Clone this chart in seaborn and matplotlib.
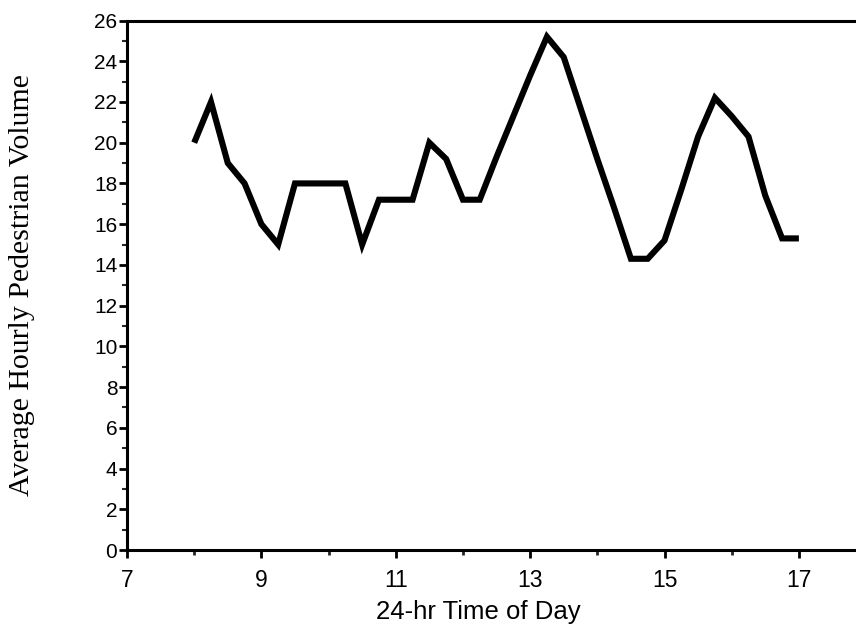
import numpy as np
import pandas as pd
import matplotlib
matplotlib.use("Agg")
import matplotlib.pyplot as plt
from matplotlib.ticker import MultipleLocator
import seaborn as sns

# quarter-hour readings, 8:00 to 17:00
hours = [8.0, 8.25, 8.5, 8.75, 9.0, 9.25, 9.5, 9.75, 10.0, 10.25,
         10.5, 10.75, 11.0, 11.25, 11.5, 11.75, 12.0, 12.25, 12.5, 12.75,
         13.0, 13.25, 13.5, 13.75, 14.0, 14.25, 14.5, 14.75, 15.0, 15.25,
         15.5, 15.75, 16.0, 16.25, 16.5, 16.75, 17.0]
volume = [20.0, 22.0, 19.0, 18.0, 16.0, 15.0, 18.0, 18.0, 18.0, 18.0,
          15.0, 17.2, 17.2, 17.2, 20.0, 19.2, 17.2, 17.2, 19.3, 21.3,
          23.3, 25.2, 24.2, 21.7, 19.2, 16.8, 14.3, 14.3, 15.2, 17.7,
          20.3, 22.2, 21.3, 20.3, 17.4, 15.3, 15.3]

x_ticks = [7, 9, 11, 13, 15, 17]
y_ticks = list(range(0, 27, 2))

df = pd.DataFrame({"hour": hours, "volume": volume})

sns.set_style("ticks")
plt.rcParams["font.family"] = ["Liberation Sans", "DejaVu Sans"]
plt.rcParams["text.color"] = "black"

fig = plt.figure(figsize=(8.56, 6.34), dpi=100)
ax = fig.add_axes([127 / 856, 1 - 550 / 634, 1 - 127 / 856, (550 - 20.5) / 634])

sns.lineplot(data=df, x="hour", y="volume", ax=ax, color="black",
             linewidth=4.4, solid_joinstyle="miter", solid_capstyle="butt")

ax.set_xlim(7, 17.85)
ax.set_ylim(0, 26)
ax.set_xticks(x_ticks)
ax.set_yticks(y_ticks)
ax.xaxis.set_minor_locator(MultipleLocator(1))
ax.yaxis.set_minor_locator(MultipleLocator(1))
ax.set_xlabel("")
ax.set_ylabel("")

for side in ["left", "bottom", "top"]:
    ax.spines[side].set_linewidth(2.2)
    ax.spines[side].set_color("black")
ax.spines["right"].set_visible(False)

ax.tick_params(axis="x", which="major", length=6, width=2, pad=8,
               labelsize=16.5, colors="black")
ax.tick_params(axis="x", which="minor", length=3.5, width=2)
ax.tick_params(axis="y", which="major", length=6, width=2, pad=1,
               labelsize=15, colors="black")
ax.tick_params(axis="y", which="minor", length=3.5, width=1.5)

fig.text(478 / 856, 1 - 619 / 634, "24-hr Time of Day", ha="center",
         va="baseline", fontsize=18.5, color="black",
         family=["Liberation Sans", "DejaVu Sans"])
fig.text(22 / 856, 1 - 285 / 634, "Average Hourly Pedestrian Volume",
         rotation=90, ha="center", va="center", fontsize=21.5, color="black",
         family=["Liberation Serif", "DejaVu Serif"])

fig.savefig("out.png", dpi=100)
